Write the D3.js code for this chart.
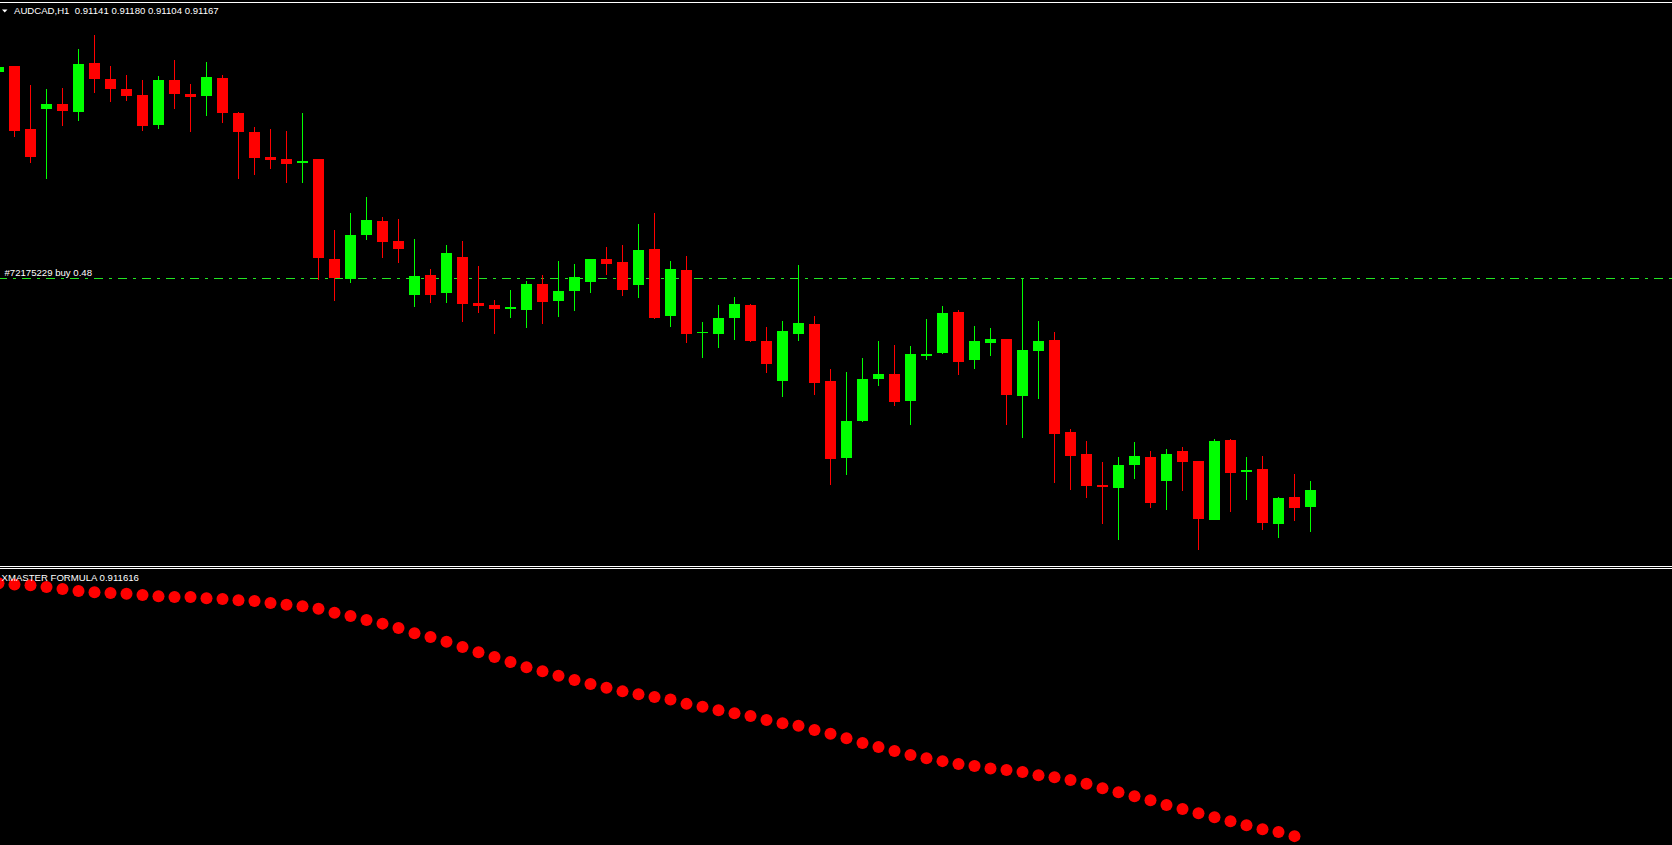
<!DOCTYPE html>
<html>
<head>
<meta charset="utf-8">
<script src="https://cdn.jsdelivr.net/npm/d3@7"></script>
<style>
  html, body { margin: 0; padding: 0; background: #000; overflow: hidden; }
  svg { display: block; }
  text { font-family: "Liberation Sans", Arial, sans-serif; font-size: 9.6px; fill: #fff; white-space: pre; }
</style>
</head>
<body>
<svg id="chart"></svg>
<script>
'use strict';

// AUDCAD H1 bars, oldest first (last one is the live bar from the header)
const symbol = 'AUDCAD,H1';

const opens = [
  0.91794, 0.91803, 0.91709, 0.91739, 0.91746, 0.91734, 0.91808, 0.91784, 0.91769, 0.91760,
  0.91715, 0.91782, 0.91761, 0.91758, 0.91785, 0.91733, 0.91704, 0.91667, 0.91664, 0.91658,
  0.91664, 0.91514, 0.91484, 0.91550, 0.91571, 0.91541, 0.91460, 0.91490, 0.91463, 0.91517,
  0.91448, 0.91445, 0.91439, 0.91437, 0.91476, 0.91451, 0.91466, 0.91479, 0.91514, 0.91509,
  0.91475, 0.91529, 0.91428, 0.91497, 0.91403, 0.91401, 0.91425, 0.91445, 0.91391, 0.91331,
  0.91401, 0.91416, 0.91331, 0.91215, 0.91271, 0.91334, 0.91341, 0.91301, 0.91368, 0.91373,
  0.91434, 0.91362, 0.91388, 0.91394, 0.91308, 0.91376, 0.91392, 0.91254, 0.91221, 0.91175,
  0.91170, 0.91205, 0.91217, 0.91181, 0.91226, 0.91211, 0.91122, 0.91242, 0.91194, 0.91199,
  0.91116, 0.91157, 0.91141
];

const highs = [
  0.91803, 0.91803, 0.91775, 0.91769, 0.91770, 0.91829, 0.91850, 0.91803, 0.91790, 0.91782,
  0.91788, 0.91812, 0.91776, 0.91809, 0.91790, 0.91734, 0.91712, 0.91709, 0.91706, 0.91733,
  0.91664, 0.91557, 0.91583, 0.91607, 0.91577, 0.91574, 0.91544, 0.91499, 0.91535, 0.91541,
  0.91503, 0.91452, 0.91467, 0.91481, 0.91490, 0.91511, 0.91506, 0.91514, 0.91532, 0.91535,
  0.91566, 0.91583, 0.91511, 0.91518, 0.91419, 0.91445, 0.91457, 0.91446, 0.91412, 0.91421,
  0.91505, 0.91428, 0.91349, 0.91344, 0.91365, 0.91391, 0.91385, 0.91383, 0.91424, 0.91443,
  0.91437, 0.91413, 0.91410, 0.91394, 0.91484, 0.91421, 0.91404, 0.91259, 0.91241, 0.91209,
  0.91217, 0.91239, 0.91226, 0.91229, 0.91232, 0.91211, 0.91244, 0.91244, 0.91217, 0.91218,
  0.91157, 0.91191, 0.91180
];

const lows = [
  0.91793, 0.91697, 0.91658, 0.91634, 0.91713, 0.91721, 0.91763, 0.91749, 0.91751, 0.91706,
  0.91709, 0.91739, 0.91704, 0.91728, 0.91718, 0.91634, 0.91640, 0.91649, 0.91628, 0.91628,
  0.91482, 0.91451, 0.91478, 0.91542, 0.91515, 0.91508, 0.91442, 0.91448, 0.91448, 0.91419,
  0.91433, 0.91401, 0.91425, 0.91410, 0.91416, 0.91427, 0.91436, 0.91463, 0.91490, 0.91458,
  0.91455, 0.91424, 0.91412, 0.91388, 0.91365, 0.91380, 0.91392, 0.91389, 0.91343, 0.91307,
  0.91391, 0.91310, 0.91175, 0.91190, 0.91269, 0.91323, 0.91293, 0.91265, 0.91362, 0.91371,
  0.91340, 0.91349, 0.91368, 0.91265, 0.91245, 0.91304, 0.91178, 0.91167, 0.91155, 0.91116,
  0.91092, 0.91184, 0.91140, 0.91137, 0.91166, 0.91077, 0.91122, 0.91134, 0.91152, 0.91107,
  0.91095, 0.91121, 0.91104
];

const closes = [
  0.91802, 0.91706, 0.91667, 0.91746, 0.91736, 0.91806, 0.91784, 0.91769, 0.91758, 0.91713,
  0.91782, 0.91761, 0.91757, 0.91787, 0.91733, 0.91704, 0.91665, 0.91662, 0.91656, 0.91661,
  0.91515, 0.91485, 0.91550, 0.91572, 0.91539, 0.91529, 0.91488, 0.91460, 0.91523, 0.91446,
  0.91443, 0.91439, 0.91442, 0.91476, 0.91449, 0.91466, 0.91487, 0.91514, 0.91506, 0.91467,
  0.91527, 0.91425, 0.91499, 0.91401, 0.91404, 0.91425, 0.91446, 0.91391, 0.91356, 0.91406,
  0.91418, 0.91328, 0.91214, 0.91271, 0.91334, 0.91341, 0.91299, 0.91371, 0.91371, 0.91433,
  0.91359, 0.91391, 0.91394, 0.91310, 0.91377, 0.91391, 0.91251, 0.91218, 0.91173, 0.91172,
  0.91205, 0.91218, 0.91148, 0.91221, 0.91209, 0.91124, 0.91241, 0.91193, 0.91197, 0.91118,
  0.91155, 0.91140, 0.91167
];

// XMaster Formula line (no value drawn on the live bar)
const indicatorName = 'XMASTER FORMULA';
const indicatorLast = 0.911616;
const xmaster = [
  0.91789, 0.91786, 0.91784, 0.91780, 0.91775, 0.91770, 0.91767, 0.91765, 0.91763, 0.91760,
  0.91757, 0.91755, 0.91755, 0.91752, 0.91750, 0.91747, 0.91745, 0.91740, 0.91736, 0.91732,
  0.91726, 0.91716, 0.91708, 0.91698, 0.91689, 0.91678, 0.91665, 0.91656, 0.91644, 0.91631,
  0.91618, 0.91606, 0.91594, 0.91581, 0.91571, 0.91560, 0.91549, 0.91539, 0.91530, 0.91521,
  0.91514, 0.91507, 0.91501, 0.91490, 0.91483, 0.91474, 0.91467, 0.91460, 0.91450, 0.91442,
  0.91436, 0.91425, 0.91416, 0.91405, 0.91393, 0.91383, 0.91373, 0.91363, 0.91355, 0.91348,
  0.91341, 0.91336, 0.91330, 0.91326, 0.91321, 0.91313, 0.91308, 0.91301, 0.91292, 0.91281,
  0.91271, 0.91261, 0.91251, 0.91239, 0.91229, 0.91219, 0.91209, 0.91199, 0.91189, 0.91179,
  0.91172, 0.91162
];

// open order
const orderTicket = '#72175229';
const orderType = 'buy';
const orderLots = 0.48;
const orderPrice = 0.91485;

const WIDTH = 1672;
const HEIGHT = 845;
const BULL = '#00ff00';
const BEAR = '#ff0000';
const BODY_WIDTH = 11;

const bars = d3.range(opens.length).map((i) => {
  return { i: i, o: opens[i], h: highs[i], l: lows[i], c: closes[i] };
});

const svg = d3.select('#chart')
  .attr('width', WIDTH)
  .attr('height', HEIGHT)
  .style('background', '#000');

const xScale = d3.scaleLinear()
  .domain([0, bars.length - 1])
  .range([-1.5, 1310.5]);

const yScale = d3.scaleLinear()
  .domain([0.910545, 0.91902])
  .range([565, 0]);

const subScale = d3.scaleLinear()
  .domain([0.91140, 0.91822])
  .range([845, 570]);

svg.append('defs').call((defs) => {
  defs.append('clipPath').attr('id', 'main-clip')
    .append('rect').attr('x', 0).attr('y', 3).attr('width', WIDTH).attr('height', 563);
  defs.append('clipPath').attr('id', 'sub-clip')
    .append('rect').attr('x', 0).attr('y', 569).attr('width', WIDTH).attr('height', HEIGHT - 569);
});

// window frames
svg.append('g')
  .attr('class', 'frames')
  .attr('shape-rendering', 'crispEdges')
  .selectAll('line')
  .data([2.5, 566.5, 568.5])
  .enter()
  .append('line')
  .attr('x1', 0)
  .attr('x2', WIDTH)
  .attr('y1', d => d)
  .attr('y2', d => d)
  .attr('stroke', '#fff')
  .attr('stroke-width', 1);

const main = svg.append('g').attr('clip-path', 'url(#main-clip)');

// order level
const orderY = Math.round(yScale(orderPrice)) + 0.5;
main.append('line')
  .attr('x1', 0)
  .attr('x2', WIDTH)
  .attr('y1', orderY)
  .attr('y2', orderY)
  .attr('shape-rendering', 'crispEdges')
  .attr('stroke', '#22e622')
  .attr('stroke-width', 1)
  .attr('stroke-dasharray', '9,6,3,6')
  .attr('stroke-dashoffset', 2);

const candles = main.selectAll('.candle')
  .data(bars)
  .enter()
  .append('g')
  .attr('class', 'candle')
  .attr('shape-rendering', 'crispEdges');

const colorOf = d => (d.c >= d.o ? BULL : BEAR);

candles.append('line')
  .attr('x1', d => xScale(d.i))
  .attr('x2', d => xScale(d.i))
  .attr('y1', d => Math.round(yScale(d.h)))
  .attr('y2', d => Math.round(yScale(d.l)))
  .attr('stroke', colorOf)
  .attr('stroke-width', 1);

candles.append('rect')
  .attr('x', d => xScale(d.i) - BODY_WIDTH / 2)
  .attr('width', BODY_WIDTH)
  .attr('y', d => Math.round(yScale(Math.max(d.o, d.c))))
  .attr('height', (d) => {
    const top = Math.round(yScale(Math.max(d.o, d.c)));
    const bottom = Math.round(yScale(Math.min(d.o, d.c)));
    return Math.max(1, bottom - top);
  })
  .attr('fill', colorOf);

// indicator sub window
const sub = svg.append('g').attr('clip-path', 'url(#sub-clip)');

sub.selectAll('circle')
  .data(xmaster)
  .enter()
  .append('circle')
  .attr('cx', (d, i) => xScale(i))
  .attr('cy', d => subScale(d))
  .attr('r', 6)
  .attr('fill', BEAR);

// labels
const last = bars[bars.length - 1];
const fmt = d3.format('.5f');

svg.append('path')
  .attr('d', d3.line()([[2, 9.5], [7.5, 9.5], [4.75, 12.5]]) + 'Z')
  .attr('fill', '#fff');

svg.append('text')
  .attr('x', 14)
  .attr('y', 14)
  .text(symbol + '  ' + [last.o, last.h, last.l, last.c].map(fmt).join(' '));

svg.append('text')
  .attr('x', 4.5)
  .attr('y', 276)
  .text(orderTicket + ' ' + orderType + ' ' + orderLots.toFixed(2));

svg.append('text')
  .attr('x', 1.5)
  .attr('y', 581)
  .text(indicatorName + ' ' + indicatorLast.toFixed(6));
</script>
</body>
</html>
